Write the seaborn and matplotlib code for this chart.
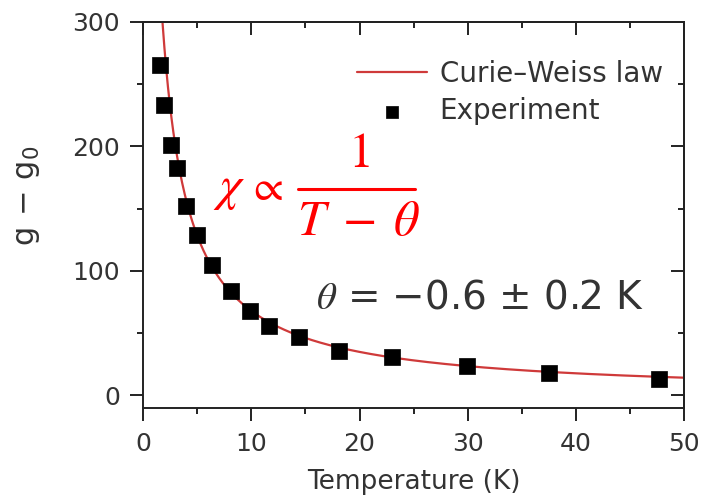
import numpy as np
import pandas as pd
import matplotlib
matplotlib.use("Agg")
import matplotlib.pyplot as plt
from matplotlib.lines import Line2D
from matplotlib.ticker import MultipleLocator
import seaborn as sns

# Measured g - g0 versus temperature
temperature = [1.6, 1.93, 2.55, 3.1, 3.97, 4.99, 6.34, 8.12, 9.9, 11.63,
               14.37, 18.13, 22.99, 29.9, 37.5, 47.7]
g_shift = [265, 233, 201, 183, 152, 129, 105, 84, 68, 56,
           47, 36, 31, 24, 18, 13]

# Curie-Weiss fit parameters
theta = -0.6
curie_const = 720.0
t_min, t_max = 1.0, 50.0

sns.set_theme(style="ticks")
plt.rcParams["font.family"] = ["DejaVu Sans"]

ink = "#333333"
dark = "#222222"
red = "#cf3a3a"

fig = plt.figure(figsize=(7.15, 4.98), dpi=100)
ax = fig.add_axes([0.2, 0.181, 0.757, 0.775])

t_fit = np.linspace(t_min, t_max, 600)
fit = pd.DataFrame({"T": t_fit, "g": curie_const / (t_fit - theta)})
exp = pd.DataFrame({"T": temperature, "g": g_shift})

sns.lineplot(data=fit, x="T", y="g", ax=ax, color=red, lw=1.6,
             label="Curie\u2013Weiss law", zorder=2)
sns.scatterplot(data=exp, x="T", y="g", ax=ax, marker="s", s=120,
                color="black", edgecolor="black", linewidth=0.5,
                label="Experiment", zorder=3)

ax.set_xlim(0, 50)
ax.set_ylim(-10, 300)
ax.xaxis.set_major_locator(MultipleLocator(10))
ax.xaxis.set_minor_locator(MultipleLocator(5))
ax.yaxis.set_major_locator(MultipleLocator(100))
ax.yaxis.set_minor_locator(MultipleLocator(50))

for sp in ax.spines.values():
    sp.set_visible(True)
    sp.set_linewidth(1.4)
    sp.set_color(dark)

ax.tick_params(which="major", direction="out", length=9.5, width=1.4,
               color=dark, labelsize=18, labelcolor=ink, pad=7)
ax.tick_params(axis="x", which="major", pad=8)
ax.tick_params(which="minor", direction="out", length=4.5, width=1.4,
               color=dark)

# Mirrored inward ticks on the top and right sides
top = ax.secondary_xaxis("top")
top.xaxis.set_major_locator(MultipleLocator(10))
top.xaxis.set_minor_locator(MultipleLocator(5))
top.tick_params(which="major", direction="in", length=9.5, width=1.4,
                color=dark, labeltop=False)
top.tick_params(which="minor", direction="in", length=4.5, width=1.4,
                color=dark)
right = ax.secondary_yaxis("right")
right.yaxis.set_major_locator(MultipleLocator(100))
right.yaxis.set_minor_locator(MultipleLocator(50))
right.tick_params(which="major", direction="in", length=9.5, width=1.4,
                  color=dark, labelright=False)
right.tick_params(which="minor", direction="in", length=4.5, width=1.4,
                  color=dark)
for s in (top, right):
    for sp in s.spines.values():
        sp.set_linewidth(1.4)
        sp.set_color(dark)

ax.set_xlabel("Temperature (K)", fontsize=19, color=ink, labelpad=9)
ax.set_ylabel(r"$\mathrm{g\,-\,g_0}$", fontsize=22, color=ink,
              math_fontfamily="dejavusans")
ax.yaxis.set_label_coords(-0.187, 0.55)

leg = ax.legend(loc="upper left", frameon=False, fontsize=20,
                handlelength=2.5, handletextpad=0.47, labelspacing=0.33,
                bbox_to_anchor=(0.3956, 0.902), markerscale=0.75,
                borderaxespad=0.0, borderpad=0.0)
for t in leg.get_texts():
    t.set_color(ink)

# Curie-Weiss relation, typeset as a built-up fraction
tr = ax.transAxes
ax.text(0.129, 0.539, r"$\chi$", color="red", fontsize=36,
        ha="left", va="baseline", math_fontfamily="stix", transform=tr)
ax.text(0.192, 0.539, r"$\propto$", color="red", fontsize=31,
        ha="left", va="baseline", math_fontfamily="stix", transform=tr)
ax.text(0.398, 0.624, r"$1$", color="red", fontsize=36,
        ha="center", va="baseline", math_fontfamily="stix", transform=tr)
ax.add_line(Line2D([0.2865, 0.5027], [0.567, 0.567], color="red", lw=2.2,
                   transform=tr))
ax.text(0.398, 0.448, r"$T\;-\;\theta$", color="red", fontsize=36,
        ha="center", va="baseline", math_fontfamily="stix", transform=tr)

ax.text(16.0, 79, r"$\theta$ = " + "\u22120.6 \u00b1 0.2 K", color=ink,
        fontsize=28, ha="left", va="center", math_fontfamily="stix")

fig.savefig("out.png", dpi=100)
